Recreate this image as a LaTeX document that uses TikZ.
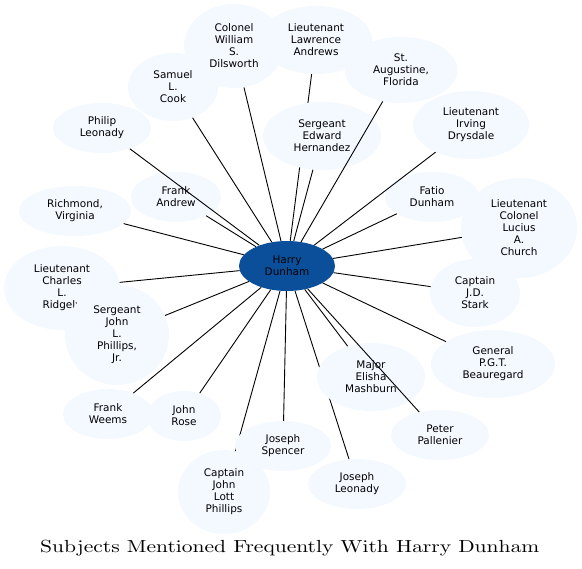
\documentclass[tikz,border=0pt]{standalone}
\usepackage{fontspec}
\newfontfamily\labelfont{DejaVu Sans}
\font\titlefnt=cmr10 at 17.5bp
\usetikzlibrary{shapes.geometric}
\definecolor{bubble}{RGB}{244,248,255}
\definecolor{hub}{RGB}{11,79,155}

\begin{document}
\begin{tikzpicture}[x=1bp,y=-1bp,
  subj/.style={ellipse,fill=bubble,inner sep=0pt,align=center,font=\labelfont\fontsize{10.5}{12}\selectfont},
  link/.style={line width=0.9bp}]

\useasboundingbox (0,0) rectangle (582,569);

\node[subj,fill=hub,minimum width=96bp,minimum height=50bp] (harry) at (287,266) {Harry\\Dunham};

%% upper half
\node[subj,minimum width=100bp,minimum height=84bp] (dilsworth) at (234,46) {Colonel\\William\\S.\\Dilsworth};
\draw[link] (harry) -- (dilsworth);
\node[subj,minimum width=112bp,minimum height=68bp] (andrews) at (316,40) {Lieutenant\\Lawrence\\Andrews};
\draw[link] (harry) -- (andrews);
\node[subj,minimum width=118bp,minimum height=68bp] (hernandez) at (322,136) {Sergeant\\Edward\\Hernandez};
\draw[link] (harry) -- (hernandez);
\node[subj,minimum width=113bp,minimum height=66bp] (augustine) at (401,70) {St.\\Augustine,\\Florida};
\draw[link] (harry) -- (augustine);
\node[subj,minimum width=90bp,minimum height=68bp] (cook) at (173,87) {Samuel\\L.\\Cook};
\draw[link] (harry) -- (cook);
\node[subj,minimum width=90bp,minimum height=50bp] (frankandrew) at (176,197) {Frank\\Andrew};
\draw[link] (harry) -- (frankandrew);
\node[subj,minimum width=98bp,minimum height=50bp] (philip) at (102,128) {Philip\\Leonady};
\draw[link] (harry) -- (philip);
\node[subj,minimum width=94bp,minimum height=50bp] (fatio) at (432,197) {Fatio\\Dunham};
\draw[link] (harry) -- (fatio);
\node[subj,minimum width=116bp,minimum height=68bp] (drysdale) at (471,125) {Lieutenant\\Irving\\Drysdale};
\draw[link] (harry) -- (drysdale);
\node[subj,minimum width=112bp,minimum height=50bp] (richmond) at (75,211) {Richmond,\\Virginia};
\draw[link] (harry) -- (richmond);
\node[subj,minimum width=116bp,minimum height=100bp] (church) at (519,228) {Lieutenant\\Colonel\\Lucius\\A.\\Church};
\draw[link] (harry) -- (church);

%% lower half
\node[subj,minimum width=116bp,minimum height=84bp] (ridgely) at (62,288) {Lieutenant\\Charles\\L.\\Ridgely};
\draw[link] (harry) -- (ridgely);
\node[subj,minimum width=104bp,minimum height=100bp] (sjohn) at (117,335) {Sergeant\\John\\L.\\Phillips,\\Jr.};
\draw[link] (harry) -- (sjohn);
\node[subj,minimum width=90bp,minimum height=68bp] (stark) at (475,293) {Captain\\J.D.\\Stark};
\draw[link] (harry) -- (stark);
\node[subj,minimum width=124bp,minimum height=68bp] (beauregard) at (493,364) {General\\P.G.T.\\Beauregard};
\draw[link] (harry) -- (beauregard);
\node[subj,minimum width=98bp,minimum height=50bp] (jleonady) at (357,484) {Joseph\\Leonady};
\draw[link] (harry) -- (jleonady);
\node[subj,minimum width=108bp,minimum height=68bp] (mashburn) at (371,377) {Major\\Elisha\\Mashburn};
\draw[link] (harry) -- (mashburn);
\node[subj,minimum width=98bp,minimum height=50bp] (pallenier) at (440,435) {Peter\\Pallenier};
\draw[link] (harry) -- (pallenier);
\node[subj,minimum width=90bp,minimum height=50bp] (weems) at (108,414) {Frank\\Weems};
\draw[link] (harry) -- (weems);
\node[subj,minimum width=74bp,minimum height=50bp] (rose) at (184,416) {John\\Rose};
\draw[link] (harry) -- (rose);
\node[subj,minimum width=92bp,minimum height=84bp] (lott) at (224,492) {Captain\\John\\Lott\\Phillips};
\draw[link] (harry) -- (lott);
\node[subj,minimum width=96bp,minimum height=50bp] (spencer) at (283,446) {Joseph\\Spencer};
\draw[link] (harry) -- (spencer);

\node (title) at (290,548) {\scalebox{1.23}[1]{\titlefnt Subjects Mentioned Frequently With Harry Dunham}};

\end{tikzpicture}
\end{document}
